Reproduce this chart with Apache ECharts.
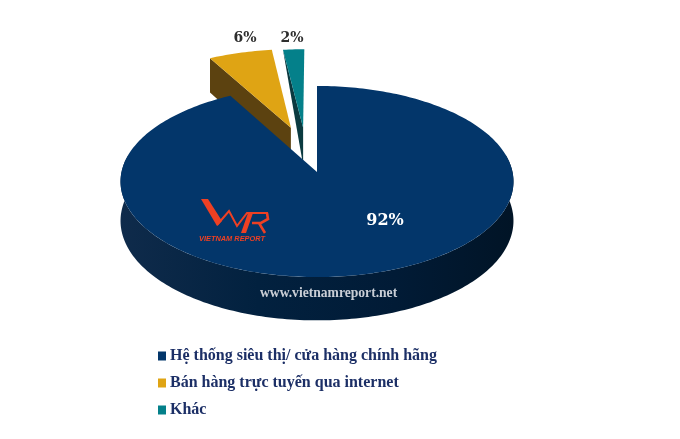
<!DOCTYPE html>
<html><head><meta charset="utf-8">
<style>html,body{margin:0;padding:0;background:#fff}#c{width:680px;height:439px}</style>
<script src="https://cdn.jsdelivr.net/npm/echarts@6/dist/echarts.min.js"></script>
</head><body><div id="c"></div>
<script>
const categories = ['Hệ thống siêu thị/ cửa hàng chính hãng', 'Bán hàng trực tuyến qua internet', 'Khác'];
const values = [92, 6, 2];
const labels = ['92%', '6%', '2%'];
const topColors = ['#03366a', '#dfa414', '#04808a'];
const wallColors = ['#02213f', '#5c4210', '#0b3a40'];

// view model of the tilted pie
const cx = 317, cy = 172, R = 195.5, ry = 94.6, k = 0.0995, D = 39;
const explode = [[0, 0], [-0.14, -0.49], [-0.0745, -0.49]];
const wallTaper = [1, 1, 0];
const labelAt = [[385, 221], [245, 38], [292, 38]];
const labelColor = ['#ffffff', '#2e2e2e', '#2e2e2e'];
const labelSize = [16, 14, 14];
const serif = '"Liberation Serif", serif';
const labelFont = '"DejaVu Serif", serif';
const total = values.reduce((a, b) => a + b, 0);

function sliceRender(i) {
  return function (params, api) {
    const start = values.slice(0, i).reduce((a, b) => a + b, 0) / total * 2 * Math.PI;
    const end = start + api.value(0) / total * 2 * Math.PI;
    const [ex, ey] = explode[i];
    const p = (U, V, z) => {
      const s = 1 / (1 - k * V);
      return api.coord([cx + R * U * s, cy + ry * V * s + D * z * s]);
    };
    const rim = (a, z) => p(ex + Math.sin(a), ey - Math.cos(a), z);
    const arc = (a0, a1, z) => {
      const pts = [], n = Math.max(4, Math.ceil(Math.abs(a1 - a0) / 0.02));
      for (let j = 0; j <= n; j++) pts.push(rim(a0 + (a1 - a0) * j / n, z));
      return pts;
    };
    const children = [];
    if (i === 0) {
      const front = arc(Math.PI * 0.44, Math.PI * 1.56, 0).concat(arc(Math.PI * 1.56, Math.PI * 0.44, 1));
      children.push({
        type: 'polygon', shape: { points: front },
        style: {
          fill: new echarts.graphic.LinearGradient(0, 0, 1, 0, [
            { offset: 0, color: '#0f2b4b' }, { offset: 0.35, color: '#02213f' },
            { offset: 0.7, color: '#011b36' }, { offset: 1, color: '#011426' }
          ])
        }
      });
    } else {
      children.push({
        type: 'polygon',
        shape: { points: [rim(start, 0), p(ex, ey, 0), p(ex, ey, 1), rim(start, wallTaper[i])] },
        style: { fill: wallColors[i] }
      });
    }
    children.push({
      type: 'polygon',
      shape: { points: [p(ex, ey, 0)].concat(arc(start, end, 0)) },
      style: { fill: topColors[i] }
    });
    const at = api.coord(labelAt[i]);
    children.push({
      type: 'text', z2: 10,
      style: {
        text: labels[i], x: at[0], y: at[1], align: 'center', verticalAlign: 'middle',
        font: 'bold ' + labelSize[i] + 'px ' + labelFont, fill: labelColor[i]
      }
    });
    return { type: 'group', children };
  };
}

const chart = echarts.init(document.getElementById('c'), null, { renderer: 'canvas' });
chart.setOption({
  animation: false,
  backgroundColor: '#ffffff',
  grid: { left: 0, right: 0, top: 0, bottom: 0 },
  xAxis: { type: 'value', min: 0, max: 680, show: false },
  yAxis: { type: 'value', min: 0, max: 439, inverse: true, show: false },
  legend: {
    data: categories, orient: 'vertical', left: 158, top: 347, itemWidth: 8, itemHeight: 9,
    itemGap: 9, icon: 'rect', padding: 0,
    textStyle: { fontFamily: serif, fontWeight: 'bold', fontSize: 16, color: '#1c2f66', padding: [0, 0, 0, -1], lineHeight: 18 }
  },
  series: categories.map((name, i) => ({
    type: 'custom', name, coordinateSystem: 'cartesian2d', z: i === 0 ? 3 : 2,
    clip: false, silent: true, renderItem: sliceRender(i),
    itemStyle: { color: topColors[i] }, data: [[values[i]]], encode: { x: [], y: [] }
  })),
  graphic: [
    { type: 'text', z: 10, x: 260, y: 286, style: { text: 'www.vietnamreport.net', font: 'bold 13.6px ' + serif, fill: '#c9ced6' } },
    { type: 'polygon', z: 10, shape: { points: [[201, 199], [208, 199], [222, 221], [217, 226]] }, style: { fill: '#ee4023' } },
    { type: 'polyline', z: 10, shape: { points: [[217, 225], [229, 211], [237, 226], [247, 213], [268, 213]] }, style: { stroke: '#ee4023', lineWidth: 2, fill: null } },
    { type: 'polygon', z: 10, shape: { points: [[248, 213], [253, 213], [246, 233], [241, 233]] }, style: { fill: '#ee4023' } },
    { type: 'polyline', z: 10, shape: { points: [[267, 213], [268, 219], [261, 223], [252, 223], [259, 223], [265, 233]] }, style: { stroke: '#ee4023', lineWidth: 2.6, fill: null } },
    { type: 'text', z: 10, x: 199, y: 235, style: { text: 'VIETNAM REPORT', font: 'italic bold 7.4px "Liberation Sans"', fill: '#ee4023' } }
  ]
});
</script></body></html>
